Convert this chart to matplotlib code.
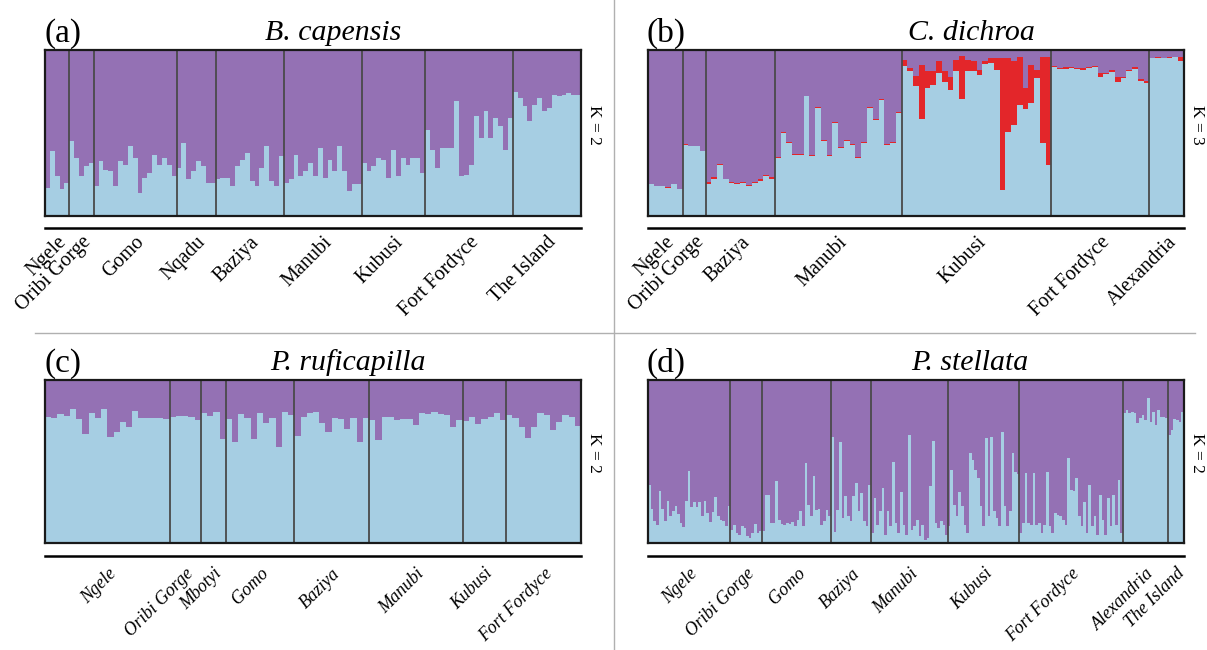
import numpy as np
import matplotlib
matplotlib.use("Agg")
import matplotlib.pyplot as plt
from matplotlib.transforms import blended_transform_factory

plt.rcParams['font.family'] = ['Liberation Serif', 'DejaVu Serif']

W, H = 1207, 650

PURPLE = '#9471b4'
BLUE = '#a6cee3'
RED = '#e3262a'

# ---------------- (a) B. capensis, K = 2 ----------------
a_groups = ["Ngele", "Oribi Gorge", "Gomo", "Nqadu", "Baziya", "Manubi",
            "Kubusi", "Fort Fordyce", "The Island"]
a_blue = [
    [0.17, 0.39, 0.24, 0.16, 0.20],
    [0.45, 0.35, 0.24, 0.30, 0.32],
    [0.18, 0.33, 0.28, 0.27, 0.18, 0.33, 0.31, 0.42, 0.35, 0.14, 0.23, 0.26,
     0.37, 0.31, 0.35, 0.31, 0.24],
    [0.29, 0.44, 0.22, 0.27, 0.33, 0.30, 0.20, 0.20],
    [0.22, 0.23, 0.23, 0.18, 0.30, 0.34, 0.38, 0.21, 0.18, 0.29, 0.42, 0.21,
     0.18, 0.36],
    [0.20, 0.22, 0.37, 0.24, 0.27, 0.32, 0.24, 0.41, 0.23, 0.34, 0.27, 0.42,
     0.27, 0.15, 0.19, 0.19],
    [0.32, 0.27, 0.30, 0.35, 0.34, 0.23, 0.40, 0.24, 0.35, 0.31, 0.35, 0.35,
     0.26],
    [0.52, 0.40, 0.29, 0.41, 0.41, 0.41, 0.69, 0.24, 0.25, 0.31, 0.60, 0.47,
     0.63, 0.47, 0.59, 0.54, 0.40, 0.59],
    [0.75, 0.71, 0.66, 0.57, 0.67, 0.71, 0.63, 0.65, 0.73, 0.72, 0.73, 0.74,
     0.73, 0.73],
]

# ---------------- (b) C. dichroa, K = 3 ----------------
b_groups = ["Ngele", "Oribi Gorge", "Baziya", "Manubi", "Kubusi",
            "Fort Fordyce", "Alexandria"]
b_blue = [
    [0.19, 0.18, 0.18, 0.17, 0.19, 0.16],
    [0.43, 0.42, 0.42, 0.39],
    [0.19, 0.22, 0.31, 0.22, 0.20, 0.19, 0.20, 0.18, 0.20, 0.21, 0.24, 0.22],
    [0.35, 0.50, 0.44, 0.37, 0.37, 0.72, 0.36, 0.65, 0.45, 0.36, 0.56, 0.41,
     0.45, 0.43, 0.35, 0.44, 0.65, 0.58, 0.70, 0.43, 0.44, 0.62],
    [0.906, 0.871, 0.784, 0.586, 0.771, 0.790, 0.861, 0.810, 0.759, 0.871,
     0.702, 0.871, 0.871, 0.851, 0.916, 0.922, 0.882, 0.157, 0.504, 0.549,
     0.667, 0.647, 0.678, 0.831, 0.439, 0.310],
    [0.896, 0.888, 0.886, 0.892, 0.888, 0.882, 0.892, 0.896, 0.835, 0.855,
     0.865, 0.810, 0.830, 0.876, 0.888, 0.814, 0.804],
    [0.953, 0.953, 0.949, 0.953, 0.957, 0.933],
]
b_red = [
    [0.003, 0.003, 0.003, 0.003, 0.003, 0.003],
    [0.003, 0.003, 0.003, 0.003],
    [0.012, 0.014, 0.004, 0.004, 0.004, 0.006, 0.006, 0.006, 0.004, 0.012,
     0.006, 0.014],
    [0.005] * 22,
    [0.031, 0.020, 0.057, 0.322, 0.102, 0.082, 0.071, 0.061, 0.076, 0.071,
     0.261, 0.071, 0.061, 0.031, 0.016, 0.027, 0.067, 0.792, 0.445, 0.384,
     0.290, 0.122, 0.233, 0.051, 0.518, 0.647],
    [0.008, 0.005, 0.010, 0.004, 0.006, 0.008, 0.004, 0.006, 0.027, 0.006,
     0.015, 0.025, 0.006, 0.006, 0.008, 0.010, 0.010],
    [0.0, 0.003, 0.0, 0.003, 0.0, 0.024],
]

# ---------------- (c) P. ruficapilla, K = 2 ----------------
c_groups = ["Ngele", "Oribi Gorge", "Mbotyi", "Gomo", "Baziya", "Manubi",
            "Kubusi", "Fort Fordyce"]
c_blue = [
    [0.776, 0.769, 0.790, 0.780, 0.820, 0.759, 0.667, 0.800, 0.769, 0.820,
     0.653, 0.678, 0.745, 0.710, 0.810, 0.765, 0.769, 0.765, 0.769, 0.759],
    [0.776, 0.780, 0.780, 0.771, 0.755],
    [0.796, 0.780, 0.802, 0.637],
    [0.759, 0.622, 0.790, 0.765, 0.639, 0.800, 0.735, 0.765, 0.588, 0.806,
     0.786],
    [0.657, 0.776, 0.796, 0.802, 0.735, 0.678, 0.769, 0.759, 0.698, 0.765,
     0.622, 0.765],
    [0.755, 0.633, 0.776, 0.776, 0.755, 0.759, 0.761, 0.724, 0.796, 0.790,
     0.806, 0.792, 0.786, 0.714, 0.755],
    [0.749, 0.776, 0.729, 0.759, 0.776, 0.800, 0.755],
    [0.786, 0.769, 0.714, 0.647, 0.714, 0.796, 0.786, 0.694, 0.745, 0.786,
     0.776, 0.718],
]

# ---------------- (d) P. stellata, K = 2 ----------------
d_groups = ["Ngele", "Oribi Gorge", "Gomo", "Baziya", "Manubi", "Kubusi",
            "Fort Fordyce", "Alexandria", "The Island"]
d_blue = [
    [0.357, 0.208, 0.133, 0.112, 0.316, 0.208, 0.133, 0.259, 0.163, 0.194,
     0.229, 0.180, 0.122, 0.098, 0.255, 0.439, 0.220, 0.249, 0.220, 0.249,
     0.163, 0.255, 0.184, 0.127, 0.188, 0.282, 0.163, 0.143, 0.133, 0.106,
     0.229],
    [0.082, 0.112, 0.061, 0.051, 0.106, 0.092, 0.041, 0.031, 0.061, 0.118,
     0.061, 0.071],
    [0.071, 0.296, 0.296, 0.122, 0.122, 0.378, 0.143, 0.116, 0.112, 0.122,
     0.118, 0.127, 0.106, 0.143, 0.194, 0.102, 0.490, 0.235, 0.163, 0.408,
     0.204, 0.208, 0.112, 0.133, 0.204, 0.163],
    [0.653, 0.065, 0.204, 0.622, 0.153, 0.286, 0.163, 0.133, 0.286, 0.367,
     0.194, 0.306, 0.133, 0.102, 0.357],
    [0.061, 0.276, 0.112, 0.194, 0.337, 0.051, 0.194, 0.102, 0.494, 0.122,
     0.061, 0.310, 0.112, 0.051, 0.663, 0.082, 0.102, 0.143, 0.041, 0.112,
     0.020, 0.031, 0.347, 0.627, 0.122, 0.092, 0.133, 0.112, 0.051],
    [0.106, 0.449, 0.235, 0.163, 0.310, 0.224, 0.112, 0.061, 0.551, 0.510,
     0.449, 0.398, 0.224, 0.102, 0.643, 0.163, 0.653, 0.194, 0.153, 0.102,
     0.684, 0.224, 0.102, 0.194, 0.553, 0.437, 0.425],
    [0.061, 0.122, 0.429, 0.122, 0.112, 0.429, 0.112, 0.122, 0.061, 0.112,
     0.433, 0.102, 0.061, 0.184, 0.173, 0.163, 0.143, 0.112, 0.520, 0.327,
     0.316, 0.398, 0.163, 0.102, 0.249, 0.061, 0.357, 0.102, 0.163, 0.051,
     0.296, 0.143, 0.051, 0.276, 0.102, 0.296, 0.112, 0.388, 0.061],
    [0.796, 0.816, 0.796, 0.806, 0.796, 0.735, 0.765, 0.786, 0.755, 0.888,
     0.745, 0.806, 0.724, 0.816, 0.776, 0.776, 0.765],
    [0.663, 0.694, 0.759, 0.755, 0.745, 0.806],
]


def px_box(l, t, r, b):
    return [l / W, 1 - b / H, (r - l) / W, (b - t) / H]


def draw_panel(fig, box, groups, blue, red, k_text, italic, line_y, lab_y,
               lab_size):
    ax = fig.add_axes(px_box(*box))
    blue_all = np.concatenate([np.array(g, dtype=float) for g in blue])
    if red is None:
        red_all = np.zeros_like(blue_all)
    else:
        red_all = np.concatenate([np.array(g, dtype=float) for g in red])
    n = len(blue_all)
    edges_x = np.arange(n + 1)
    # stacked stairs: no seams between neighbouring individuals
    ax.stairs(blue_all, edges_x, baseline=0, fill=True, color=BLUE, lw=0)
    ax.stairs(blue_all + red_all, edges_x, baseline=blue_all, fill=True,
              color=RED, lw=0)
    ax.stairs(np.ones(n), edges_x, baseline=blue_all + red_all, fill=True,
              color=PURPLE, lw=0)
    ax.set_xlim(0, n)
    ax.set_ylim(0, 1)
    ax.set_xticks([])
    ax.set_yticks([])
    for s in ax.spines.values():
        s.set_linewidth(1.6)
        s.set_color('#1a1a1a')

    sizes = [len(g) for g in blue]
    edges = np.cumsum(sizes)
    for e in edges[:-1]:
        ax.axvline(e, color='#4a4a4a', lw=1.3)

    # line under panel
    ax.plot([0, 1], [line_y, line_y], transform=ax.transAxes, color='black',
            lw=1.8, clip_on=False)

    trans = blended_transform_factory(ax.transData, ax.transAxes)
    starts = edges - np.array(sizes)
    for name, s0, e in zip(groups, starts, edges):
        ax.text((s0 + e) / 2, lab_y, name, transform=trans, rotation=45,
                rotation_mode='anchor', ha='right', va='top',
                fontsize=lab_size, style='italic' if italic else 'normal')

    ax.text(1.010, 0.55, k_text, transform=ax.transAxes, rotation=270,
            ha='left', va='center', fontsize=12.5)
    return ax


fig = plt.figure(figsize=(W / 100, H / 100), dpi=100)

draw_panel(fig, (45, 50, 581, 216), a_groups, a_blue, None, 'K = 2', False,
           -0.075, -0.10, 14.5)
draw_panel(fig, (648, 50, 1184, 216), b_groups, b_blue, b_red, 'K = 3', False,
           -0.075, -0.10, 14.5)
draw_panel(fig, (45, 380, 581, 543), c_groups, c_blue, None, 'K = 2', True,
           -0.08, -0.135, 13)
draw_panel(fig, (648, 380, 1184, 543), d_groups, d_blue, None, 'K = 2', True,
           -0.08, -0.135, 13)

# panel letters and species names
letters = [("(a)", 44, 42), ("(b)", 647, 42), ("(c)", 44, 372), ("(d)", 647, 372)]
for t, px, py in letters:
    fig.text(px / W, 1 - py / H, t, fontsize=24, ha='left', va='baseline')

species = [("B. capensis", 333, 40), ("C. dichroa", 971, 40),
           ("P. ruficapilla", 348, 370), ("P. stellata", 970, 370)]
for t, px, py in species:
    fig.text(px / W, 1 - py / H, t, fontsize=21.5, style='italic',
             ha='center', va='baseline')

# grey dividers between panels
fig.add_artist(plt.Line2D([614 / W, 614 / W], [0, 1], color='#b0b0b0', lw=1.0))
fig.add_artist(plt.Line2D([35 / W, 1195 / W], [1 - 333 / H, 1 - 333 / H],
                          color='#b0b0b0', lw=1.0))

fig.savefig('out.png', dpi=100)
